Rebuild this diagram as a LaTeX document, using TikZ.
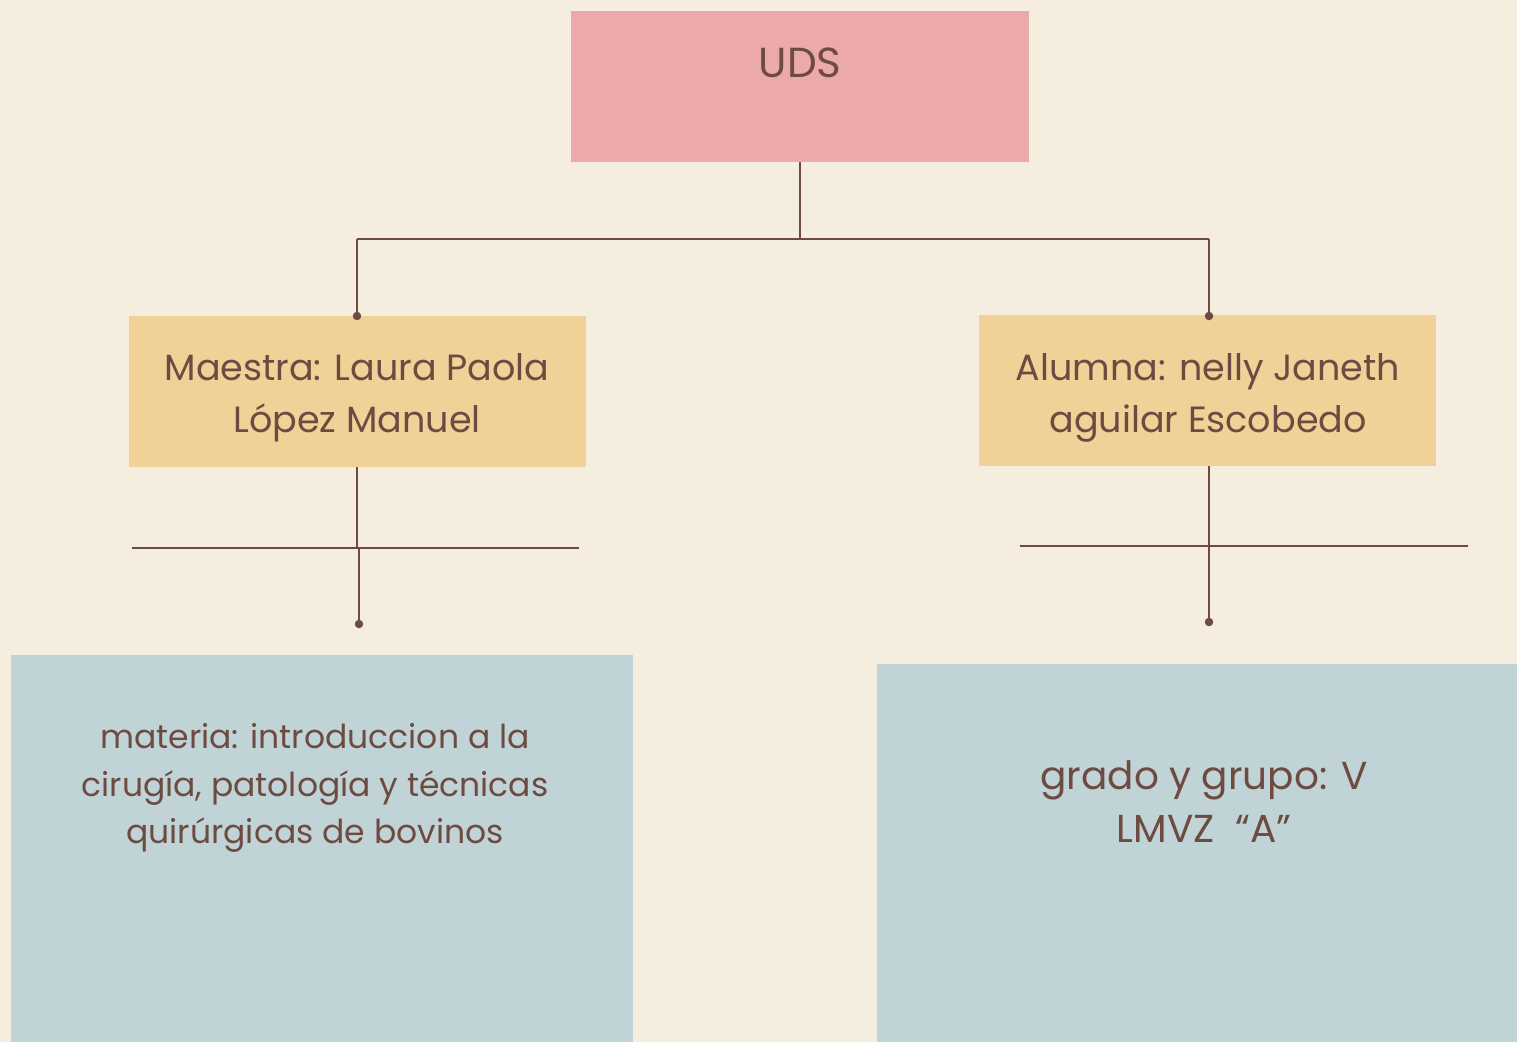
\documentclass[tikz,border=0pt]{standalone}
\usepackage{fontspec}
\setmainfont{Poppins}
\definecolor{bg}{RGB}{245,238,223}
\definecolor{pinkbox}{RGB}{235,170,169}
\definecolor{yelbox}{RGB}{240,209,152}
\definecolor{bluebox}{RGB}{192,212,215}
\definecolor{ink}{RGB}{110,75,65}
\begin{document}
\begin{tikzpicture}[x=1pt,y=-1pt,
  box/.style={draw=none,inner sep=0pt,outer sep=0pt},
  lbl/.style={text=ink,align=center,inner sep=0pt,font=\fontsize{36.5}{52}\selectfont},
  lbla/.style={text=ink,align=center,inner sep=0pt,font=\fontsize{42}{52}\selectfont},
  lblb/.style={text=ink,align=center,inner sep=0pt,font=\fontsize{33}{47.5}\selectfont},
  lblc/.style={text=ink,align=center,inner sep=0pt,font=\fontsize{39}{53}\selectfont},
  conn/.style={draw=ink,line width=2.2pt},
  dot/.style={circle,fill=ink,inner sep=0pt,minimum size=8.5pt}]
\fill[bg] (0,0) rectangle (1517,1042);
\useasboundingbox (0,0) rectangle (1517,1042);
% boxes
\node[box,fill=pinkbox,minimum width=458pt,minimum height=151pt] (uds) at (800,86.5) {};
\node[box,fill=yelbox,minimum width=457pt,minimum height=151pt] (maestra) at (357.5,391.5) {};
\node[box,fill=yelbox,minimum width=457pt,minimum height=151pt] (alumna) at (1207.5,390.5) {};
\node[box,fill=bluebox,minimum width=622pt,minimum height=387pt] (materia) at (322,848.5) {};
\node[box,fill=bluebox,minimum width=640pt,minimum height=378pt] (grado) at (1197,853) {};
% texts
\node[lbla] (tuds) at (800,63) {UDS};
\node[lbl] (tmaestra) at (357,398) {Maestra: Laura Paola\\López Manuel};
\node[lbl] (talumna) at (1208,398) {Alumna: nelly Janeth\\aguilar Escobedo};
\node[lblb] (tmateria) at (315,788) {materia: introduccion a la\\cirugía, patología y técnicas\\quirúrgicas de bovinos};
\node[lblc] (tgrado) at (1204,802) {grado y grupo: V\\LMVZ\ \ “A”};
% connector coordinates
\coordinate (junc) at (800,239);
\coordinate (jl) at (357,239);
\coordinate (jr) at (1209,239);
\coordinate (tl) at (357,316);
\coordinate (tr) at (1209,316);
\coordinate (ml) at (357,548);
\coordinate (ml2) at (359,548);
\coordinate (bl) at (359,624);
\coordinate (br) at (1209,622);
\coordinate (hlA) at (132,548);
\coordinate (hlB) at (579,548);
\coordinate (hrA) at (1020,546);
\coordinate (hrB) at (1468,546);
\draw[conn] (uds.south) -- (junc);
\draw[conn] (jl) -- (jr);
\draw[conn] (jl) -- (tl);
\draw[conn] (jr) -- (tr);
\node[dot] at (tl) {};
\node[dot] at (tr) {};
\draw[conn] (maestra.south -| ml) -- (ml);
\draw[conn] (hlA) -- (hlB);
\draw[conn] (ml2) -- (bl);
\node[dot] at (bl) {};
\draw[conn] (alumna.south -| br) -- (br);
\draw[conn] (hrA) -- (hrB);
\node[dot] at (br) {};
\end{tikzpicture}
\end{document}
